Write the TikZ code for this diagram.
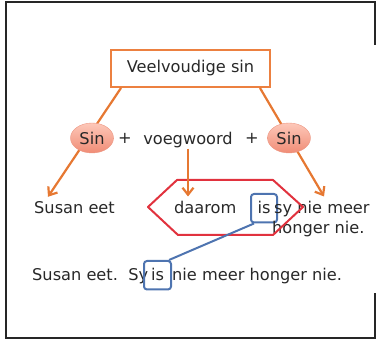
\documentclass[tikz,border=0pt]{standalone}
\usepackage{fontspec}
\setmainfont{DejaVu Sans}
\usetikzlibrary{arrows.meta, positioning, shapes.geometric, calc}

\definecolor{lineorange}{RGB}{230,120,50}
\definecolor{boxorange}{RGB}{236,128,64}
\definecolor{sintop}{RGB}{253,200,185}
\definecolor{sinbottom}{RGB}{240,140,118}
\definecolor{sinedge}{RGB}{236,150,130}
\definecolor{hexred}{RGB}{225,50,62}
\definecolor{isblue}{RGB}{78,116,176}
\definecolor{textgray}{RGB}{40,40,40}

\begin{document}
\begin{tikzpicture}[
    x=1pt, y=1pt,
    every node/.style={font=\fontsize{16.2}{19}\selectfont, text=textgray, inner sep=0pt},
    titlebox/.style={draw=boxorange, line width=2pt, minimum width=159pt, minimum height=37pt},
    sinball/.style={ellipse, minimum width=43pt, minimum height=30pt, top color=sintop, bottom color=sinbottom, draw=sinedge, line width=0.4pt},
    isbox/.style={draw=isblue, line width=2pt, rounded corners=3pt, anchor=base, minimum width=26pt, text height=20pt, text depth=8.5pt},
    link/.style={draw=lineorange, line width=2.2pt},
    >={Straight Barb[length=7pt, width=11pt]} % Arrow style
]
\useasboundingbox (0,0) rectangle (376,342);

% Frame
\draw[line width=2pt, black!85] (375,297) -- (375,340) -- (6,340) -- (6,4) -- (375,4) -- (375,49);

% Nodes
\node[titlebox] (title) at (190.5,273.5) {Veelvoudige sin};
\node[anchor=base] (plusL) at (125,198) {+};
\node[anchor=base] (voeg) at (188,197) {voegwoord};
\node[anchor=base] (plusR) at (252,198) {+};

\node[anchor=base west] (susan1) at (34,128) {Susan eet};
\node[anchor=base west] (daarom) at (174,128) {daarom};
\node[isbox] (isU) at (264,128) {is};
\node[anchor=base west] (sy) at (274,128) {sy nie meer};
\node[anchor=base west] (honger) at (272,108) {honger nie.};

\node[anchor=base west] (susan2) at (32,61) {Susan eet.\ \ Sy};
\node[isbox, minimum width=27pt] (isL) at (157.5,61) {is};
\node[anchor=base west] (rest2) at (172,61) {nie meer honger nie.};

% Hexagon
\draw[hexred, line width=2pt, line join=round] (148,135) -- (177,162) -- (273,162) -- (303,135) -- (273,107) -- (178,107) -- cycle;

% Arrows
\draw[link, ->] ($(title.south west)+(11,0)$) -- ($(susan1.north west)+(14,5)$);
\draw[link, ->] ($(title.south east)+(-11,0)$) -- ($(sy.north west)+(50,5)$);
\draw[link, ->] (voeg.south) -- ($(voeg.south |- daarom.north)+(0,5)$);
\draw[isblue, line width=2pt] ($(isU.south west)+(4,0)$) -- ($(isL.north east)+(-3,0)$);

\node[sinball] (sinL) at (92,204) {Sin};
\node[sinball] (sinR) at (289,204) {Sin};

\end{tikzpicture}
\end{document}
